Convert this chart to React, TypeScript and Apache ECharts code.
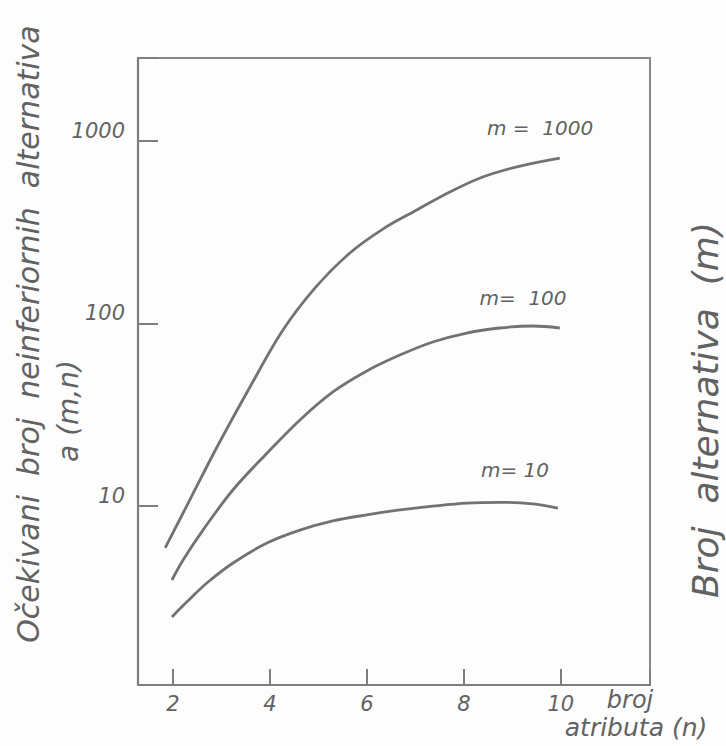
import React, { useEffect, useRef } from "react";
import * as echarts from "echarts";

// Number of attributes n (x) and expected number of non-inferior alternatives a(m,n) (y)
const n_m1000 = [1.84, 2.37, 2.91, 3.59, 4.27, 4.95, 5.65, 6.33, 7.03, 7.71, 8.39, 9.16, 9.98];
const a_m1000 = [5.9, 11.1, 21.1, 45.0, 92.3, 159, 244, 330, 420, 527, 637, 731, 809];

const n_m100 = [1.98, 2.21, 2.62, 3.24, 3.94, 4.62, 5.3, 6.0, 6.68, 7.36, 8.06, 8.74, 9.42, 9.98];
const a_m100 = [3.94, 5.07, 7.39, 12.3, 19.5, 29.7, 42.3, 55.1, 67.3, 79.4, 88.9, 94.7, 97.1, 94.7];

const n_m10 = [1.98, 2.29, 2.7, 3.24, 3.94, 4.62, 5.3, 6.0, 6.68, 7.36, 8.06, 8.74, 9.42, 9.94];
const a_m10 = [2.47, 2.99, 3.79, 4.88, 6.28, 7.39, 8.3, 8.96, 9.53, 10.0, 10.4, 10.5, 10.3, 9.77];

const xTickLabels = [2, 4, 6, 8, 10];
const yTickLabels = [10, 100, 1000];
const curveLabels = ["m =  1000", "m=  100", "m= 10"];

const zip = (xs: number[], ys: number[]) => xs.map((x, i) => [x, ys[i]]);

const INK = "#727272";
const TEXT = "#626262";
const FONT = "DejaVu Sans";

export default function App() {
  const ref = useRef<HTMLDivElement>(null);
  useEffect(() => {
    document.body.style.margin = "0";
    const chart = echarts.init(ref.current!, null, { renderer: "svg" });
    const lineStyle = { color: INK, width: 2.8 };
    const txt = (x: number, y: number, text: string, size: number, rot = 0) => ({
      type: "text",
      x,
      y,
      rotation: rot,
      style: {
        text,
        fill: TEXT,
        font: `italic ${size}px "${FONT}"`,
        align: "center",
        verticalAlign: "middle",
      },
    });
    const line = (data: number[][]) => ({
      type: "line",
      data,
      smooth: 0.35,
      showSymbol: false,
      lineStyle,
    });
    chart.setOption({
      animation: false,
      backgroundColor: "#fdfdfd",
      grid: {
        left: 138,
        top: 58,
        width: 512,
        height: 627,
        show: true,
        borderColor: "#8a8a8a",
        borderWidth: 2,
        backgroundColor: "transparent",
      },
      xAxis: {
        type: "value",
        min: 1.28,
        max: 11.84,
        splitNumber: 5,
        axisLine: { show: true, lineStyle: { color: "#7e7e7e", width: 2.2 } },
        axisTick: { show: true, inside: true, length: 16, lineStyle: { color: "#7e7e7e", width: 2 } },
        splitLine: { show: false },
        axisLabel: {
          margin: 8,
          color: TEXT,
          fontFamily: FONT,
          fontStyle: "italic",
          fontSize: 21,
          formatter: (v: number) =>
            xTickLabels.some((t) => Math.abs(t - v) < 1e-6) ? String(Math.round(v)) : "",
        },
      },
      yAxis: {
        type: "log",
        logBase: 10,
        min: 1.047,
        max: 2858,
        splitNumber: 3,
        axisLine: { show: true, lineStyle: { color: "#7e7e7e", width: 2.2 } },
        axisTick: { show: true, inside: true, length: 20, lineStyle: { color: "#7e7e7e", width: 2 } },
        splitLine: { show: false },
        minorTick: { show: false },
        axisLabel: {
          margin: 13,
          color: TEXT,
          fontFamily: FONT,
          fontStyle: "italic",
          fontSize: 21,
          verticalAlign: "bottom",
          formatter: (v: number) => {
            const hit = yTickLabels.find((t) => Math.abs(t - v) / t < 1e-6);
            return hit ? String(hit) : "";
          },
        },
      },
      series: [
        line(zip(n_m1000, a_m1000)),
        line(zip(n_m100, a_m100)),
        line(zip(n_m10, a_m10)),
      ],
      graphic: [
        txt(28, 334, "Očekivani  broj  neinferiornih  alternativa", 30, Math.PI / 2),
        txt(68, 411, "a (m,n)", 28, Math.PI / 2),
        txt(705, 410, "Broj  alternativa  (m)", 36, Math.PI / 2),
        txt(630, 700, "broj", 24),
        txt(636, 727, "atributa (n)", 25),
        txt(540, 128, curveLabels[0], 20),
        txt(523, 298, curveLabels[1], 20),
        txt(515, 470, curveLabels[2], 20),
      ],
    });
    return () => chart.dispose();
  }, []);
  return (
    <div
      ref={ref}
      style={{ position: "absolute", left: 0, top: 0, width: 726, height: 746 }}
    />
  );
}
